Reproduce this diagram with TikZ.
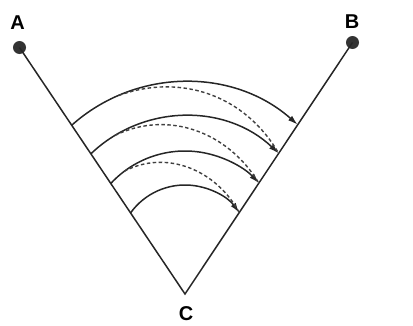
\documentclass[tikz,border=0pt]{standalone}
\usepackage{fontspec}
\setmainfont{Liberation Sans}
\usetikzlibrary{intersections,calc,arrows.meta}
\begin{document}
\begin{tikzpicture}[x=1pt,y=1pt,
  edge/.style={line width=1.5pt,black!85},
  solidarc/.style={line width=1.5pt,black!85,-{Latex[length=10pt,width=6pt]}},
  dasharc/.style={line width=1.4pt,black!75,dash pattern=on 3.5pt off 2.5pt},
  dot/.style={circle,fill=black!80,minimum size=13pt,inner sep=0pt},
  lab/.style={font=\bfseries\fontsize{20}{24}\selectfont,inner sep=0pt}]
\useasboundingbox (0,0) rectangle (413,325);
% points
\node[dot] (A) at (19.5,277.5) {};
\node[dot] (B) at (352.5,282.5) {};
\coordinate (Cv) at (185,31);
\coordinate (O) at (185,73);
% labels
\node[lab] (Alab) at (17.5,302) {A};
\node[lab] (Blab) at (352,303) {B};
\node[lab] (Clab) at (186,11) {C};
% sides
\draw[edge] (A.center) -- (Cv) -- (B.center);
\path[name path=L] (A.center) -- (Cv);
\path[name path=R] (B.center) -- (Cv);
% solid arcs
\foreach \i/\r in {1/170,2/136,3/101,4/67}{
  \path[name path=circ] (O) circle[radius=\r pt];
  \path[name intersections={of=L and circ, by=l\i}];
  \path[name intersections={of=R and circ, by=r\i}];
  \draw[solidarc] let \p1=($(l\i)-(O)$), \p2=($(r\i)-(O)$),
     \n1={atan2(\y1,\x1)}, \n2={atan2(\y2,\x2)} in
     (l\i) arc[start angle=\n1, end angle=\n2, radius=\r pt];
}
% dashed arcs
\coordinate (s1) at ($(O)+(113:170pt)$);
\coordinate (s2) at ($(O)+(121:136pt)$);
\coordinate (s3) at ($(O)+(127:101pt)$);
\draw[dasharc] (s1) to[out=20,in=120] (r2);
\draw[dasharc] (s2) to[out=26,in=121] (r3);
\draw[dasharc] (s3) to[out=28,in=118] (r4);
\end{tikzpicture}
\end{document}
